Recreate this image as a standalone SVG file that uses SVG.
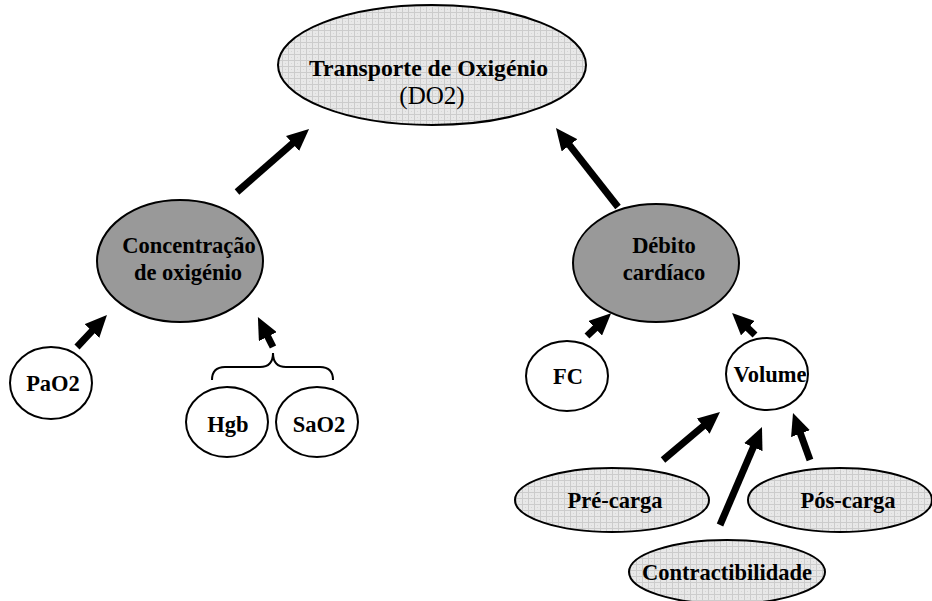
<svg xmlns="http://www.w3.org/2000/svg" width="932" height="601" viewBox="0 0 932 601">
<style>
.t{font-family:"Liberation Serif","Times New Roman",serif;font-weight:bold;font-size:22.5px;fill:#000;text-anchor:middle}
.r{font-family:"Liberation Serif","Times New Roman",serif;font-size:25px;fill:#000;text-anchor:middle}
.light{fill:url(#grid);stroke:#000;stroke-width:2}
.dark{fill:#999;stroke:#000;stroke-width:2}
.white{fill:#fff;stroke:#000;stroke-width:2}
.arr{stroke:#000;stroke-width:7;fill:none;marker-end:url(#ah)}
</style>
<defs>
<pattern id="grid" width="6" height="6" patternUnits="userSpaceOnUse">
<rect width="6" height="6" fill="#e8e8e8"/>
<rect x="0" y="0" width="6" height="1" fill="#cccccc"/>
<rect x="0" y="0" width="1" height="6" fill="#cccccc"/>
<rect x="3" y="3" width="1" height="1" fill="#d6d6d6"/>
</pattern>
<marker id="ah" markerUnits="userSpaceOnUse" viewBox="0 0 22 20" markerWidth="22" markerHeight="20" refX="2" refY="10" orient="auto">
<path d="M0,0 L22,10 L0,20 z" fill="#000"/>
</marker>
</defs>
<g id="connectors">
<line class="arr" x1="237" y1="192" x2="294" y2="142.2"/>
<line class="arr" x1="618" y1="207" x2="568.3" y2="143.7"/>
<line class="arr" x1="77" y1="347" x2="93.3" y2="329.6"/>
<line class="arr" x1="273" y1="347" x2="266.9" y2="334.9"/>
<line class="arr" x1="587" y1="336" x2="596.6" y2="326.9"/>
<line class="arr" x1="755" y1="335" x2="746.5" y2="326.8"/>
<line class="arr" x1="663" y1="460" x2="704.7" y2="424.9"/>
<line class="arr" x1="720" y1="525" x2="754.1" y2="445.4"/>
<line class="arr" x1="810" y1="460" x2="799.8" y2="431.8"/>
<path id="brace" d="M212,380 Q212,367 225,367 L260,367 Q273,367 273,353 Q273,367 286,367 L320,367 Q333,367 333,380" fill="none" stroke="#000" stroke-width="2"/>
</g>
<g id="transporte">
<ellipse class="light" cx="432" cy="65" rx="154" ry="60"/>
<text class="t" x="428.5" y="76" textLength="239" lengthAdjust="spacingAndGlyphs">Transporte de Oxigénio</text>
<text class="r" x="432" y="104">(DO2)</text>
</g>
<g id="concentracao">
<ellipse class="dark" cx="180" cy="261" rx="83" ry="61"/>
<text class="t" x="189" y="253">Concentração</text>
<text class="t" x="188" y="280">de oxigénio</text>
</g>
<g id="debito">
<ellipse class="dark" cx="656" cy="263" rx="83" ry="59"/>
<text class="t" x="664" y="253">Débito</text>
<text class="t" x="664" y="280">cardíaco</text>
</g>
<g id="pao2">
<ellipse class="white" cx="51" cy="383" rx="41" ry="36"/>
<text class="t" x="53" y="391">PaO2</text>
</g>
<g id="hgb">
<ellipse class="white" cx="227" cy="422" rx="41" ry="35"/>
<text class="t" x="228" y="432">Hgb</text>
</g>
<g id="sao2">
<ellipse class="white" cx="317" cy="422" rx="41" ry="35"/>
<text class="t" x="319" y="432">SaO2</text>
</g>
<g id="fc">
<ellipse class="white" cx="567" cy="376" rx="41" ry="35"/>
<text class="t" x="568" y="384">FC</text>
</g>
<g id="volume">
<ellipse class="white" cx="767" cy="374" rx="41" ry="36"/>
<text class="t" x="770" y="382">Volume</text>
</g>
<g id="precarga">
<ellipse class="light" cx="612" cy="500" rx="97" ry="32"/>
<text class="t" x="615" y="508">Pré-carga</text>
</g>
<g id="poscarga">
<ellipse class="light" cx="840" cy="500" rx="92" ry="32"/>
<text class="t" x="848" y="508">Pós-carga</text>
</g>
<g id="contractibilidade">
<ellipse class="light" cx="727" cy="572" rx="98" ry="32"/>
<text class="t" x="727" y="580">Contractibilidade</text>
</g>
</svg>
